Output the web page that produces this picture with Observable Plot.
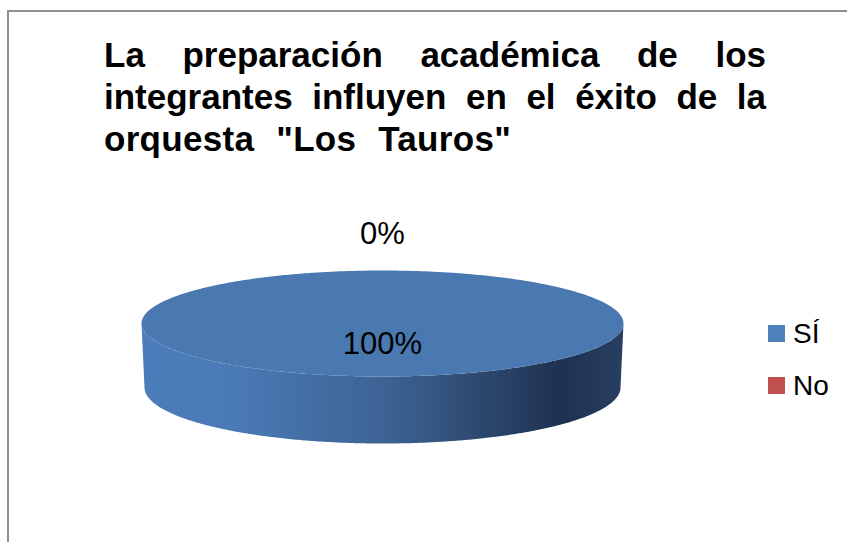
<!DOCTYPE html>
<html>
<head>
<meta charset="utf-8">
<script src="https://cdn.jsdelivr.net/npm/d3@7"></script>
<script src="https://cdn.jsdelivr.net/npm/@observablehq/plot@0.6"></script>
<style>
  html, body { margin: 0; padding: 0; background: #fff; }
  #frame { position: relative; width: 847px; height: 542px; overflow: hidden; background: #fff;
           font-family: "Liberation Sans", Arial, sans-serif; }
  #border { position: absolute; left: 7px; top: 10px; width: 900px; height: 600px;
            border-left: 2px solid #8f8f8f; border-top: 2px solid #8f8f8f; }
  #chart { position: absolute; left: 0; top: 0; }
  #title { position: absolute; left: 104px; top: 34px; width: 662px; font-weight: bold;
           font-size: 35px; line-height: 42px; color: #000; }
  #title .j { text-align: justify; text-align-last: justify; white-space: nowrap; }
  #title .l { word-spacing: 12px; letter-spacing: 0.3px; white-space: nowrap; }
  #legend { position: absolute; left: 768px; top: 0; }
  .item { position: absolute; left: 0; white-space: nowrap; font-size: 28px; line-height: 30px; color: #000; }
  .sw { display: inline-block; width: 17px; height: 17px; margin-right: 8px; vertical-align: 1px; }
</style>
</head>
<body>
<div id="frame">
  <div id="border"></div>
  <div id="chart"></div>
  <div id="title"></div>
  <div id="legend"></div>
</div>
<script>
// ---- data ----
const titleLines = ["La preparación académica de los", "integrantes influyen en el éxito de la", "orquesta \"Los Tauros\""];
const categories = ["SÍ", "No"];
const values = [100, 0];
const percentLabels = ["100%", "0%"];
const colors = ["#4F81BD", "#C0504D"];

// ---- title ----
const titleEl = document.getElementById("title");
titleLines.forEach((t, i) => {
  const d = document.createElement("div");
  d.className = i < titleLines.length - 1 ? "j" : "l";
  d.textContent = t;
  titleEl.appendChild(d);
});

// ---- legend ----
const legendEl = document.getElementById("legend");
categories.forEach((c, i) => {
  const it = document.createElement("div");
  it.className = "item";
  it.style.top = (319 + i * 52) + "px";
  const sw = document.createElement("span");
  sw.className = "sw";
  sw.style.background = colors[i];
  it.appendChild(sw);
  it.appendChild(document.createTextNode(c));
  legendEl.appendChild(it);
});

// ---- 3D pie geometry (layout parameters) ----
const W = 847, H = 542;
const cx = 382, cy = 323, rx = 241, ry = 53;
const depth = 64, rxb = 238, ryb = 56;
const topShade = ["#4a79b1", "#b24a47"];

const slices = d3.pie().sort(null).value(d => d.value)(categories.map((c, i) => ({key: c, value: values[i], i})));
const total = d3.sum(values);

const ptTop = a => [cx + rx * Math.sin(a), cy - ry * Math.cos(a)];
const ptBot = a => [cx + rxb * Math.sin(a), cy + depth - ryb * Math.cos(a)];

const topPts = [];
const sidePts = [];
const labelPts = [];
slices.forEach(s => {
  const key = s.data.key;
  const a0 = s.startAngle, a1 = s.endAngle;
  if (a1 - a0 > 1e-9) {
    topPts.push({key, i: s.data.i, x: cx, y: cy});
    const n = Math.max(2, Math.ceil((a1 - a0) / 0.01));
    for (let k = 0; k <= n; k++) {
      const [x, y] = ptTop(a0 + (a1 - a0) * k / n);
      topPts.push({key, i: s.data.i, x, y});
    }
    const lo = Math.max(a0, Math.PI / 2), hi = Math.min(a1, 3 * Math.PI / 2);
    if (hi > lo) {
      const m = Math.max(2, Math.ceil((hi - lo) / 0.01));
      for (let k = 0; k <= m; k++) {
        const [x, y] = ptTop(lo + (hi - lo) * k / m);
        sidePts.push({key, i: s.data.i, x, y});
      }
      for (let k = m; k >= 0; k--) {
        const [x, y] = ptBot(lo + (hi - lo) * k / m);
        sidePts.push({key, i: s.data.i, x, y});
      }
    }
  }
  const mid = (a0 + a1) / 2;
  const frac = s.data.value / total;
  const r = frac < 0.05 ? 1.68 : 0.38;
  labelPts.push({x: cx + rx * r * Math.sin(mid), y: cy - ry * r * Math.cos(mid), text: percentLabels[s.data.i]});
});

const plot = Plot.plot({
  width: W,
  height: H,
  margin: 0,
  x: {domain: [0, W], range: [0, W], axis: null},
  y: {domain: [0, H], range: [0, H], axis: null},
  style: {fontFamily: "'Liberation Sans', Arial, sans-serif", background: "transparent"},
  marks: [
    Plot.line(sidePts, {x: "x", y: "y", z: "key", curve: "linear-closed", fill: "url(#sideGrad)", stroke: "none"}),
    Plot.line(topPts, {x: "x", y: "y", z: "key", curve: "linear-closed", fill: d => topShade[d.i], stroke: "none"}),
    Plot.text(labelPts, {x: "x", y: "y", text: "text", fontSize: 31, fill: "#000"})
  ]
});

const svg = d3.select(plot);
const defs = svg.insert("defs", ":first-child");
const g = defs.append("linearGradient")
  .attr("id", "sideGrad")
  .attr("gradientUnits", "userSpaceOnUse")
  .attr("x1", cx - rx).attr("x2", cx + rx).attr("y1", 0).attr("y2", 0);
[[0, "#4b7dba"], [0.18, "#4a7bb7"], [0.52, "#3c6292"], [0.87, "#1f3150"], [1, "#283f62"]]
  .forEach(([o, c]) => g.append("stop").attr("offset", o).attr("stop-color", c));

document.getElementById("chart").appendChild(plot);
</script>
</body>
</html>
